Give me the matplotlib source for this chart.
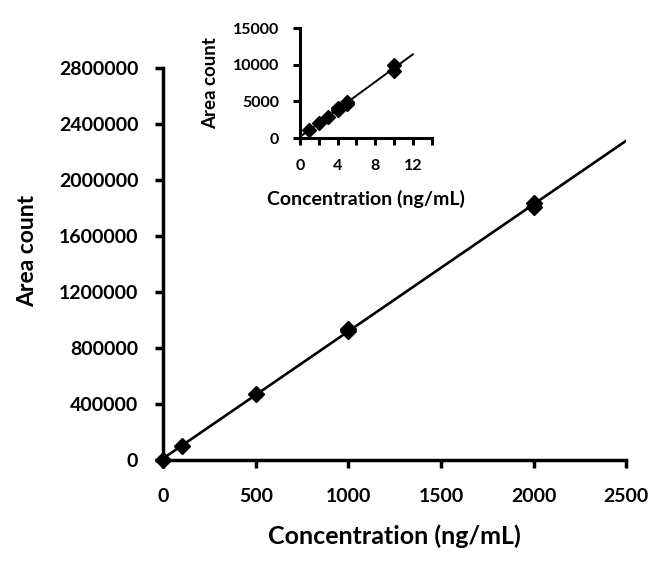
import numpy as np
import matplotlib.pyplot as plt

# main calibration data (ng/mL vs area count)
conc = [0, 100, 500, 1000, 1000, 2000, 2000]
area = [0, 100000, 475000, 920000, 940000, 1810000, 1835000]

# low-range inset
conc_low = [1, 2, 3, 4, 4, 5, 5, 10, 10]
area_low = [1150, 2050, 2850, 3800, 4150, 4650, 4950, 9200, 9900]

plt.rcParams['font.family'] = ['Lato', 'DejaVu Sans']
plt.rcParams['font.weight'] = 'bold'

fig = plt.figure(figsize=(6.72, 5.68), dpi=100)
ax = fig.add_axes([0.243, 0.19, 0.689, 0.69])

fit = np.polyfit(conc, area, 1)
xl = np.array([0, 2500])
ax.plot(xl, np.polyval(fit, xl), color='black', lw=1.9, zorder=2)
ax.plot(conc, area, 'D', color='black', ms=8.5, zorder=3, clip_on=False)

ax.set_xlim(0, 2500)
ax.set_ylim(0, 2800000)
ax.set_xticks(np.arange(0, 2501, 500))
ax.set_yticks(np.arange(0, 2800001, 400000))
ax.set_yticklabels([str(v) for v in range(0, 2800001, 400000)])
for s in ['top', 'right']:
    ax.spines[s].set_visible(False)
for s in ['left', 'bottom']:
    ax.spines[s].set_linewidth(2.5)
ax.tick_params(width=2.5, length=6, labelsize=14)
ax.tick_params(axis='x', pad=14)
ax.tick_params(axis='y', pad=12)
ax.set_xlabel('Concentration (ng/mL)', fontsize=18, fontweight='bold', labelpad=14)
ax.set_ylabel('Area count', fontsize=16.5, fontweight='bold')
ax.yaxis.set_label_coords(-0.27, 0.533)

# inset
ins = fig.add_axes([0.4464, 0.757, 0.196, 0.1937])
fit_low = np.polyfit(conc_low, area_low, 1)
xi = np.array([0, 12])
ins.plot(xi, np.polyval(fit_low, xi), color='black', lw=1.4, zorder=2)
ins.plot(conc_low, area_low, 'D', color='black', ms=7, zorder=3, clip_on=False)
ins.set_xlim(0, 14)
ins.set_ylim(0, 15000)
ins.set_xticks(np.arange(0, 15, 2))
ins.set_xticklabels(['0', '', '4', '', '8', '', '12', ''])
ins.set_yticks([0, 5000, 10000, 15000])
for s in ['top', 'right']:
    ins.spines[s].set_visible(False)
for s in ['left', 'bottom']:
    ins.spines[s].set_linewidth(2.2)
ins.tick_params(width=2.2, length=5, labelsize=11.5)
ins.tick_params(axis='x', pad=10)
ins.tick_params(axis='y', pad=10)
ins.set_xlabel('Concentration (ng/mL)', fontsize=14, fontweight='bold', labelpad=12)
ins.set_ylabel('Area count', fontsize=13.5, fontweight='bold', labelpad=10)

fig.savefig('out.png', dpi=100)
